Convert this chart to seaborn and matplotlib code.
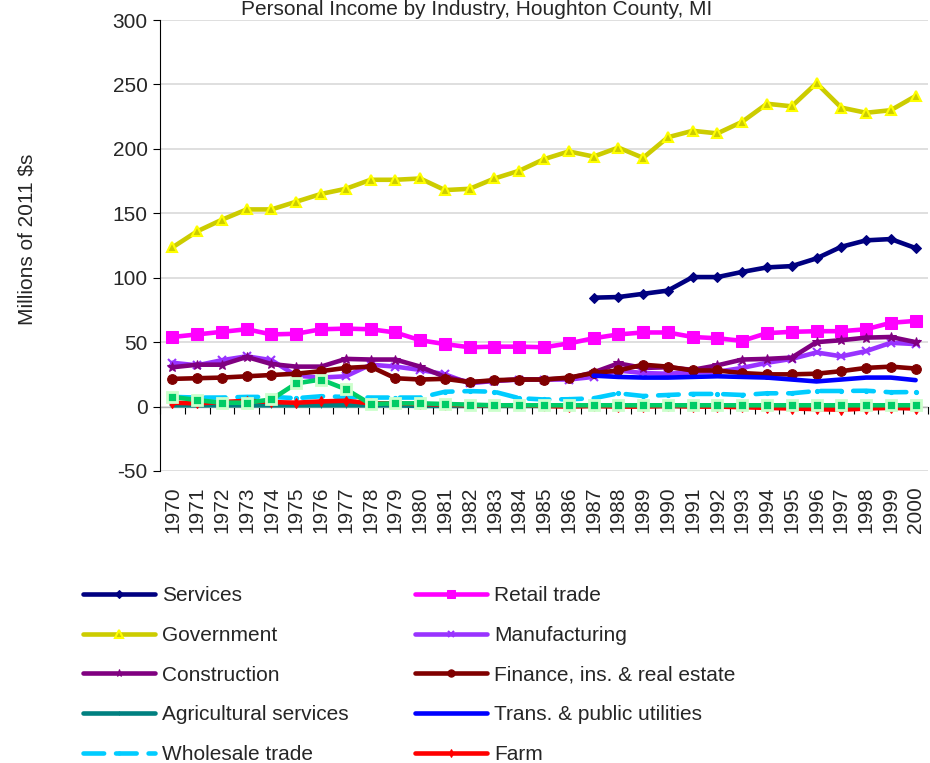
import numpy as np
import pandas as pd
import seaborn as sns
from matplotlib import pyplot as plt

years = list(range(1970, 2001))
years_late = list(range(1987, 2001))

services = [84.5, 85, 87.5, 90, 100.5, 100.5, 104.5, 108, 109, 115, 124, 129, 130, 123]
retail = [54, 56, 58, 60, 56, 56.5, 60, 60.5, 60, 57.5, 51.5, 48.5, 46, 46.5, 46.5, 46,
          49, 53, 56, 57.5, 57.5, 54, 53, 51, 57, 58, 58.5, 58.5, 60, 65, 66.5]
government = [123.5, 136, 145, 153, 153, 159, 165, 169, 176, 176, 177, 168, 169, 177, 183, 192,
              198, 194, 201, 193, 209, 214, 212, 221, 235, 233, 251, 232, 228, 230, 241]
manufacturing = [34, 32, 36, 39, 36, 24, 22.5, 23.5, 32.5, 31, 28.5, 25, 18, 20, 21, 21,
                 21, 23, 28, 26, 25.5, 26.5, 27, 30, 34, 37, 42, 39, 43, 49.5, 48.5]
construction = [30.5, 32.5, 32.5, 38.5, 33, 31, 31, 37, 36.5, 36.5, 31, 23, 19, 20, 21, 21,
                22, 26.5, 33.5, 30, 30.5, 28.5, 32, 36.5, 37, 38, 50, 51.5, 53.5, 54, 50]
finance = [21.5, 22, 22.5, 23.5, 24.5, 25.5, 27.5, 30, 31, 22, 21, 21.5, 19, 20.5, 21, 21,
           22.5, 26, 28, 32.5, 31, 28, 28, 26, 25, 25, 25.5, 27.5, 30, 31, 29.5]
agri_services = [1, 1, 1, 1, 1, 1, 1, 1, 1, 1, 0.5, 0.5, 0.5, 0.5, 0.5, 0.5,
                 0.5, 0.5, 0.5, 0.5, 0.5, 0.5, 0.5, 0.5, 0.5, 0.5, 0.5, 0.5, 0.5, 0.5, 0.5]
trans_util = [24, 23, 22.5, 22.5, 23, 23.5, 23, 22.5, 21, 19.5, 21, 22.5, 22.5, 20.5]
wholesale = [7.5, 7, 7, 7.5, 7.5, 6.5, 8, 7.5, 7, 7, 7, 11.5, 12, 11.5, 6.5, 5.5,
             5.7, 6.4, 10.3, 8.2, 9, 9.8, 9.8, 9, 10.3, 10.3, 12.1, 12.1, 12.3, 11.1, 11.3]
farm = [3, 2.5, 3.5, 4.5, 3.5, 3, 4, 4.5, 2.5, 2.5, 2, 1.5, 1, 1, 1, 0.5,
        0, 0.5, 0, 0, 0.5, 0, 0, -0.5, -1, -1.5, -2, -2.5, -1.5, -1, -1.5]
mining = [7.5, 5, 3, 3, 5.5, 18, 21, 13.5, 2, 2.5, 2.5, 2, 1.5, 1, 1, 1,
          1, 1, 1, 1, 1, 1, 1, 1, 1, 1, 1, 1, 1, 1, 1]

sns.set_style("white")
plt.rcParams['font.family'] = ['Liberation Sans', 'DejaVu Sans']
plt.rcParams['axes.unicode_minus'] = False

fig = plt.figure(figsize=(9.3, 7.63), dpi=100)
ax = fig.add_axes([160/930, 1-471/763, 768/930, 451/763])

pos = np.arange(len(years))
pos_late = pos[years.index(1987):]
lw = 3.3
fs = 15

sns.lineplot(x=pos_late, y=services, color='#000080', lw=lw, marker='D', ms=5.5,
             mec='#000080', label='Services', ax=ax)
sns.lineplot(x=pos, y=retail, color='#FF00FF', lw=lw, marker='s', ms=8,
             mec='#FF00FF', label='Retail trade', ax=ax)
sns.lineplot(x=pos, y=government, color='#CCCC00', lw=lw, marker='^', ms=7,
             mfc='#CCCC00', mec='#FFFF00', mew=1.5, label='Government', ax=ax)
sns.lineplot(x=pos, y=manufacturing, color='#9933FF', lw=lw, marker='x', ms=6,
             mec='#9933FF', mew=1.5, label='Manufacturing', ax=ax)
sns.lineplot(x=pos, y=construction, color='#800080', lw=lw, marker='*', ms=7,
             mec='#800080', label='Construction', ax=ax)
sns.lineplot(x=pos, y=finance, color='#800000', lw=lw, marker='o', ms=7,
             mec='#800000', label='Finance, ins. & real estate', ax=ax)
sns.lineplot(x=pos, y=agri_services, color='#008080', lw=lw, marker='+', ms=4,
             mec='#008080', label='Agricultural services', ax=ax)
sns.lineplot(x=pos_late, y=trans_util, color='#0000FF', lw=lw,
             label='Trans. & public utilities', ax=ax)
sns.lineplot(x=pos, y=wholesale, color='#00CCFF', lw=lw, linestyle=(0, (4.5, 2.6)),
             dash_capstyle='round', marker='o', ms=3, mec='#00CCFF',
             label='Wholesale trade', ax=ax)
sns.lineplot(x=pos, y=farm, color='#FF0000', lw=lw, marker='d', ms=5,
             mec='#FF0000', label='Farm', ax=ax)
sns.lineplot(x=pos, y=mining, color='#00CC66', lw=lw, marker='s', ms=7,
             mfc='#00CC66', mec='#CCFFCC', mew=2, label='_nolegend_', ax=ax)

ax.set_xlim(-0.5, len(years) - 0.5)
ax.set_ylim(-50, 300)
ax.set_yticks(np.arange(-50, 301, 50))
ax.yaxis.grid(True, color='#D9D9D9', lw=1.2)
ax.set_axisbelow(True)
for s in ['top', 'right', 'bottom']:
    ax.spines[s].set_visible(False)
ax.spines['left'].set_color('black')
ax.tick_params(axis='y', direction='out', length=5, color='black', labelsize=fs, pad=4, left=True)
ax.set_xticks(pos)
ax.set_xticklabels([str(y) for y in years], rotation=90, fontsize=fs)
ax.tick_params(axis='x', length=0, pad=11)
ax.set_xlabel('')
ax.set_ylabel('')

# category axis crossing at zero
sec = ax.secondary_xaxis(50/350)
sec.set_xticks(np.arange(-0.5, len(years), 1.0))
sec.set_xticklabels([])
sec.tick_params(direction='out', length=5, color='black')
sec.spines['bottom'].set_color('black')

fig.text(27/930, 1-239/763, 'Millions of 2011 $s', rotation=90, fontsize=fs,
         ha='center', va='center')
fig.text(477/930, 1-15/763, 'Personal Income by Industry, Houghton County, MI',
         fontsize=fs, ha='center', va='baseline')

handles, labels = ax.get_legend_handles_labels()
ax.get_legend().remove()
lookup = dict(zip(labels, handles))
order = ['Services', 'Government', 'Construction', 'Agricultural services', 'Wholesale trade',
         'Retail trade', 'Manufacturing', 'Finance, ins. & real estate',
         'Trans. & public utilities', 'Farm']
fig.legend([lookup[k] for k in order], order, ncol=2, loc='upper left',
           bbox_to_anchor=(83/930, 1-586/763), frameon=False, fontsize=fs,
           handlelength=3.45, handletextpad=0.33, columnspacing=3.2,
           labelspacing=1.0, borderpad=0, borderaxespad=0, markerscale=0.75)

fig.savefig('out.png', dpi=100)
